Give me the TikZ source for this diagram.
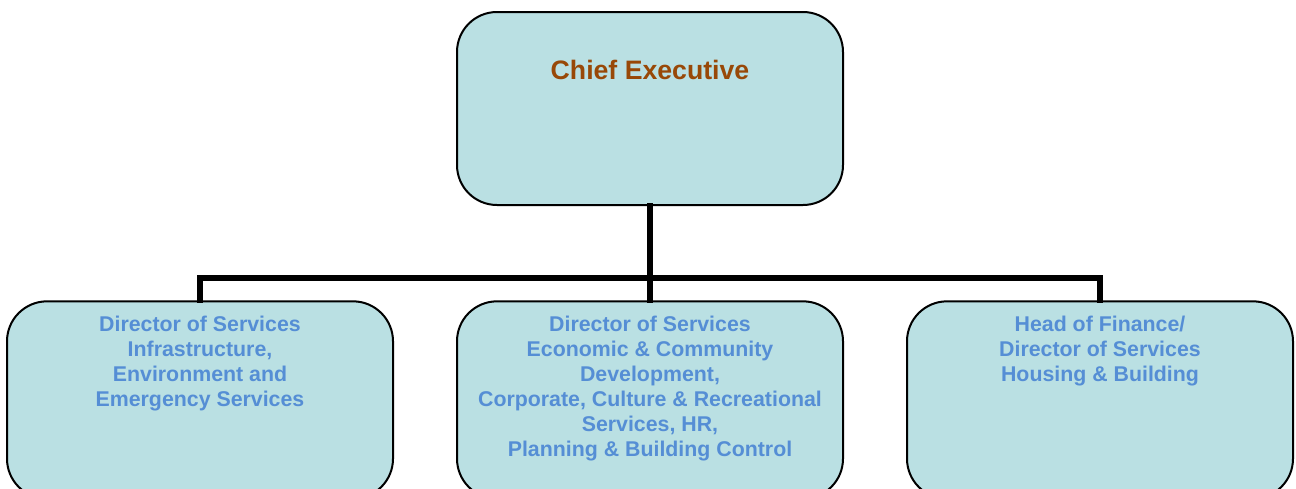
\documentclass[tikz,border=0pt]{standalone}
\usepackage{fontspec}
\setmainfont{Liberation Sans}
\definecolor{boxfill}{RGB}{186,224,227}
\definecolor{titlebrown}{RGB}{152,72,7}
\definecolor{unitblue}{RGB}{85,142,213}
\begin{document}
\begin{tikzpicture}[x=0.75pt,y=-0.75pt,
  orgbox/.style={draw=black,line width=1.5pt,fill=boxfill,rounded corners=30pt,
    minimum width=289.5pt,minimum height=144.75pt,inner sep=0pt},
  lowbox/.style={orgbox,minimum height=148pt},
  titletext/.style={font=\fontsize{20}{24}\selectfont\bfseries,text=titlebrown,inner sep=0pt},
  unittext/.style={font=\fontsize{16}{18.75}\selectfont\bfseries,text=unitblue,
    align=center,inner sep=0pt,anchor=north},
  conn/.style={line width=4.25pt,line join=miter,line cap=rect}]
\clip (0,0) rectangle (1296,489);
\fill[white] (0,0) rectangle (1296,489);

% boxes
\node[orgbox] (ceo) at (650,108.5) {};
\node[lowbox] (infra) at (200,400) {};
\node[lowbox] (econ) at (650,400) {};
\node[lowbox] (fin) at (1100,400) {};

% connectors
\coordinate (bus) at (650,278);
\draw[conn] (ceo.south) -- (bus);
\draw[conn] (infra.north) |- (bus) -| (fin.north);
\draw[conn] (bus) -- (econ.north);

% labels
\node[titletext,anchor=base] (ceotext) at (650,79) {Chief Executive};
\node[unittext] (infratext) at (200,316) {Director of Services\\Infrastructure,\\Environment and\\Emergency Services};
\node[unittext] (econtext) at (650,316) {Director of Services\\Economic \& Community\\Development,\\Corporate, Culture \& Recreational\\Services, HR,\\Planning \& Building Control};
\node[unittext] (fintext) at (1100,316) {Head of Finance/\\Director of Services\\Housing \& Building};
\end{tikzpicture}
\end{document}
